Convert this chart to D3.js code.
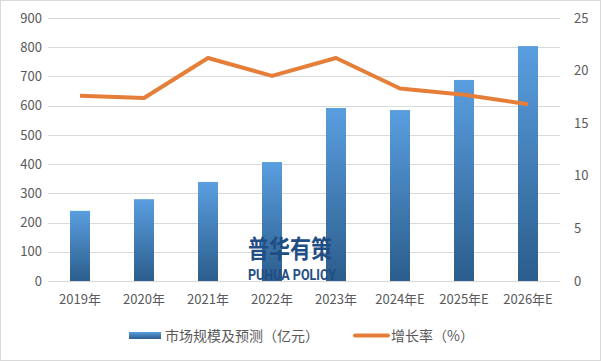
<!DOCTYPE html>
<html>
<head>
<meta charset="utf-8">
<script src="https://cdn.jsdelivr.net/npm/d3@7"></script>
<style>
  body { margin: 0; background: #fff; }
  text { font-family: "Noto Sans CJK SC", "Open Sans", sans-serif; fill: #595959; }
</style>
</head>
<body>
<div id="chart"></div>
<script>
// data
var years = ["2019年", "2020年", "2021年", "2022年", "2023年", "2024年E", "2025年E", "2026年E"];
var marketSize = [240, 280, 339, 407, 592, 585, 688, 804];
var growthRate = [17.6, 17.4, 21.2, 19.5, 21.2, 18.3, 17.7, 16.8];
var leftTicks = [0, 100, 200, 300, 400, 500, 600, 700, 800, 900];
var rightTicks = [0, 5, 10, 15, 20, 25];

var width = 601, height = 361;
var margin = {top: 18, right: 41, bottom: 80, left: 48};

var svg = d3.select("#chart").append("svg")
    .attr("width", width)
    .attr("height", height);

// outer border
svg.append("rect")
    .attr("x", 0.5).attr("y", 0.5)
    .attr("width", width - 1).attr("height", height - 1)
    .attr("fill", "#fff")
    .attr("stroke", "#d9d9d9");

var defs = svg.append("defs");
var grad = defs.append("linearGradient")
    .attr("id", "barGrad")
    .attr("x1", 0).attr("y1", 0).attr("x2", 0).attr("y2", 1);
grad.append("stop").attr("offset", "0%").attr("stop-color", "#5a9ee0");
grad.append("stop").attr("offset", "100%").attr("stop-color", "#2c5d8c");

var x = d3.scaleBand()
    .domain(years)
    .range([margin.left, width - margin.right]);

var y = d3.scaleLinear()
    .domain([0, 900])
    .range([height - margin.bottom, margin.top]);

var y2 = d3.scaleLinear()
    .domain([0, 25])
    .range([height - margin.bottom, margin.top]);

// gridlines
svg.append("g")
  .selectAll("line")
  .data(leftTicks)
  .enter()
  .append("line")
    .attr("x1", margin.left)
    .attr("x2", width - margin.right)
    .attr("y1", d => Math.round(y(d)) + 0.5)
    .attr("y2", d => Math.round(y(d)) + 0.5)
    .attr("stroke", "#d9d9d9");

// left axis
var leftAxis = svg.append("g")
    .attr("transform", `translate(${margin.left - 6},0)`)
    .call(d3.axisLeft(y).tickValues(leftTicks).tickSize(0).tickPadding(0));
leftAxis.select(".domain").remove();
leftAxis.selectAll("text").style("font-size", "13px").attr("fill", "#595959");

// right axis
var rightAxis = svg.append("g")
    .attr("transform", `translate(${width - margin.right + 14},0)`)
    .call(d3.axisRight(y2).tickValues(rightTicks).tickSize(0).tickPadding(0));
rightAxis.select(".domain").remove();
rightAxis.selectAll("text").style("font-size", "13px").attr("fill", "#595959");

// bottom axis
var bottomAxis = svg.append("g")
    .attr("transform", `translate(0,${height - margin.bottom})`)
    .call(d3.axisBottom(x).tickSize(0).tickPadding(14));
bottomAxis.select(".domain").remove();
bottomAxis.selectAll("text").style("font-size", "13px").attr("fill", "#595959");

// bars
var barW = 20;
svg.append("g")
  .selectAll("rect")
  .data(marketSize)
  .enter()
  .append("rect")
    .attr("x", (d, i) => x(years[i]) + x.bandwidth() / 2 - barW / 2)
    .attr("y", d => y(d))
    .attr("width", barW)
    .attr("height", d => y(0) - y(d))
    .attr("fill", "url(#barGrad)");

// watermark
var wm = svg.append("g");
wm.append("text")
    .attr("x", 248).attr("y", 258)
    .attr("textLength", 84)
    .attr("lengthAdjust", "spacingAndGlyphs")
    .style("font-size", "25px")
    .style("font-weight", "bold")
    .style("fill", "#1f4e85")
    .text("普华有策");
wm.append("text")
    .attr("x", 248).attr("y", 280)
    .attr("textLength", 88)
    .attr("lengthAdjust", "spacingAndGlyphs")
    .style("font-size", "15px")
    .style("font-weight", "bold")
    .style("font-family", "'Liberation Sans Narrow', 'Roboto', sans-serif")
    .style("fill", "#1f4e85")
    .text("PUHUA POLICY");

// growth line
var line = d3.line()
    .x((d, i) => x(years[i]) + x.bandwidth() / 2)
    .y(d => y2(d));

svg.append("path")
    .datum(growthRate)
    .attr("d", line)
    .attr("fill", "none")
    .attr("stroke", "#e57e38")
    .attr("stroke-width", 4)
    .attr("stroke-linejoin", "round");

// legend
var legend = svg.append("g");
legend.append("rect")
    .attr("x", 129).attr("y", 332)
    .attr("width", 32).attr("height", 7)
    .attr("fill", "url(#barGrad)");
legend.append("text")
    .attr("x", 165).attr("y", 341)
    .style("font-size", "14px")
    .text("市场规模及预测（亿元）");
legend.append("line")
    .attr("x1", 355).attr("x2", 388)
    .attr("y1", 335.5).attr("y2", 335.5)
    .attr("stroke", "#e57e38")
    .attr("stroke-width", 4)
    .attr("stroke-linecap", "round");
legend.append("text")
    .attr("x", 391).attr("y", 341)
    .style("font-size", "14px")
    .text("增长率（%）");
</script>
</body>
</html>
